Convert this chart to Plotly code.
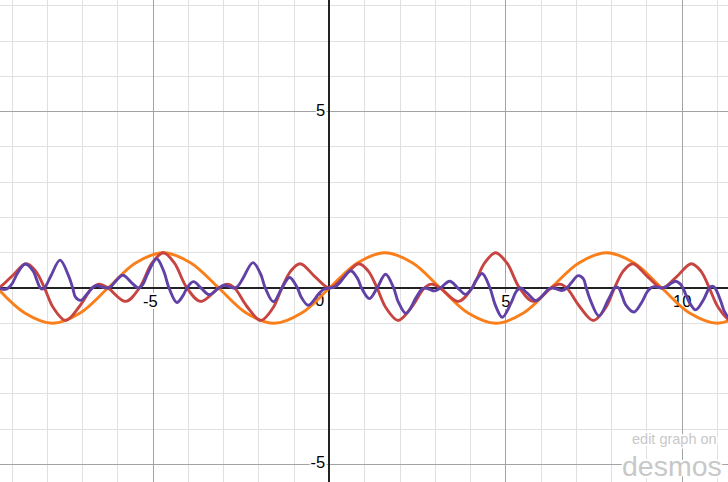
import plotly.graph_objects as go

# ---------------- data ----------------
orange_x = [-9.42, -8.64, -7.85, -7.07, -6.28, -5.50, -4.71, -3.93, -3.14, -2.36,
            -1.57, -0.79, 0.00, 0.79, 1.57, 2.36, 3.14, 3.93, 4.71, 5.50,
            6.28, 7.07, 7.85, 8.64, 9.42, 10.21, 11.00, 11.78]
orange_y = [0, -0.71, -1, -0.71, 0, 0.71, 1, 0.71, 0, -0.71,
            -1, -0.71, 0, 0.71, 1, 0.71, 0, -0.71, -1, -0.71,
            0, 0.71, 1, 0.71, 0, -0.71, -1, -0.71]

red_x = [-9.83, -9.43, -9.03, -8.60, -8.33, -8.08, -7.83, -7.48, -7.08, -6.73,
         -6.53, -6.28, -5.78, -5.39, -5.03, -4.71, -4.40, -4.04, -3.65, -3.14,
         -2.90, -2.69, -2.35, -1.95, -1.60, -1.35, -1.10, -0.83, -0.40, 0.00,
         0.40, 0.83, 1.10, 1.35, 1.60, 1.95, 2.35, 2.69, 2.90, 3.14,
         3.65, 4.04, 4.40, 4.71, 5.03, 5.39, 5.78, 6.28, 6.53, 6.73,
         7.08, 7.48, 7.83, 8.08, 8.33, 8.60, 9.03, 9.43, 9.83, 10.26,
         10.53, 10.77, 11.03, 11.38, 11.78]
red_y = [0.31, 0, 0.31, 0.69, 0.48, 0, -0.56, -0.92, -0.51, 0,
         0.11, 0, -0.38, 0, 0.71, 1.0, 0.71, 0, -0.38, 0,
         0.11, 0, -0.51, -0.92, -0.56, 0, 0.48, 0.69, 0.31, 0,
         0.31, 0.69, 0.48, 0, -0.56, -0.92, -0.51, 0, 0.11, 0,
         -0.38, 0, 0.71, 1.0, 0.71, 0, -0.38, 0, 0.11, 0,
         -0.51, -0.92, -0.56, 0, 0.48, 0.69, 0.31, 0, 0.31, 0.69,
         0.48, 0, -0.56, -0.92, -0.51]

purple_x = [-9.55, -9.42, -9.21, -9.11, -9.00, -8.85, -8.63, -8.40,
            -8.30, -8.20, -8.14, -8.08, -7.90, -7.64, -7.40, -7.28,
            -7.20, -7.05, -6.85, -6.73, -6.59, -6.45, -6.33, -6.20,
            -6.10, -5.86, -5.60, -5.42, -5.30, -5.15, -4.90, -4.70,
            -4.55, -4.33, -4.15, -4.04, -3.86, -3.64, -3.41, -3.14,
            -2.98, -2.82, -2.71, -2.60, -2.45, -2.17, -1.95, -1.82,
            -1.59, -1.35, -1.13, -0.91, -0.80, -0.60, -0.30, -0.15,
            0.00, 0.15, 0.30, 0.60, 0.80, 0.91, 1.13, 1.35,
            1.59, 1.82, 1.95, 2.17, 2.45, 2.60, 2.71, 2.82,
            2.98, 3.14, 3.41, 3.64, 3.86, 4.04, 4.15, 4.33,
            4.55, 4.70, 4.90, 5.15, 5.30, 5.42, 5.60, 5.86,
            6.10, 6.20, 6.33, 6.45, 6.59, 6.73, 6.85, 7.05,
            7.20, 7.28, 7.40, 7.64, 7.90, 8.08, 8.14, 8.20,
            8.30, 8.40, 8.63, 8.85, 9.00, 9.11, 9.21, 9.42,
            9.55, 9.65, 9.82, 9.95, 10.02, 10.10, 10.20, 10.38,
            10.60, 10.77, 10.85, 10.93, 11.10, 11.20, 11.40, 11.50]
purple_y = [-0.04, 0, -0.04, 0, 0.12, 0.41, 0.68, 0.48,
            0.23, 0, -0.03, 0, 0.34, 0.79, 0.35, 0,
            -0.26, -0.35, -0.14, 0, 0.07, 0.03, 0, 0.04,
            0.15, 0.36, 0.14, 0, 0.09, 0.42, 0.83, 0.48,
            0, -0.41, -0.21, 0, 0.18, 0, -0.19, 0,
            0.08, 0.03, 0, 0.05, 0.28, 0.72, 0.39, 0,
            -0.39, 0, 0.30, 0, -0.26, -0.49, -0.16, -0.03,
            0, 0.03, 0.16, 0.49, 0.26, 0, -0.30, 0,
            0.39, 0, -0.39, -0.72, -0.28, -0.05, 0, -0.03,
            -0.08, 0, 0.19, 0, -0.18, 0, 0.21, 0.41,
            0, -0.48, -0.83, -0.42, -0.09, 0, -0.14, -0.36,
            -0.15, -0.04, 0, -0.03, -0.07, 0, 0.14, 0.35,
            0.26, 0, -0.35, -0.79, -0.34, 0, 0.03, 0,
            -0.23, -0.48, -0.68, -0.41, -0.12, 0, 0.04, 0,
            0.04, 0.11, 0.19, 0.11, 0, -0.18, -0.40, -0.62,
            -0.34, 0, 0.05, 0, -0.39, -0.67, -0.91, -0.80]

x_tick_values = [-5, 5, 10]
x_tick_labels = ["-5", "5", "10"]
y_tick_values = [5, -5]
y_tick_labels = ["5", "-5"]
origin_label = "0"

X_RANGE = [-9.342, 11.299]
Y_RANGE = [-5.500, 8.166]

COL_ORANGE = "#fa7e19"
COL_RED = "#c74440"
COL_PURPLE = "#6042a6"

halo = ("2px 0 0 #fff, -2px 0 0 #fff, 0 2px 0 #fff, 0 -2px 0 #fff, "
        "1px 1px 0 #fff, -1px -1px 0 #fff, 1px -1px 0 #fff, -1px 1px 0 #fff")
label_font = dict(family="Liberation Sans, Arial, sans-serif", size=16.5,
                  color="#000000", shadow=halo)

fig = go.Figure()

# axis number labels (drawn beneath the curves, like Desmos)
fig.add_trace(go.Scatter(
    x=[v - 0.08 if v < 0 else v for v in x_tick_values],
    y=[-0.43] * len(x_tick_values),
    mode="text", text=x_tick_labels, textposition="middle center",
    textfont=label_font, marker=dict(size=0),
    hoverinfo="skip", showlegend=False))
fig.add_trace(go.Scatter(
    x=[-0.12] * len(y_tick_values) + [-0.15],
    y=list(y_tick_values) + [-0.40],
    mode="text", text=y_tick_labels + [origin_label], textposition="middle left",
    textfont=label_font, marker=dict(size=0),
    hoverinfo="skip", showlegend=False))

for xs, ys, col in [(orange_x, orange_y, COL_ORANGE),
                    (red_x, red_y, COL_RED),
                    (purple_x, purple_y, COL_PURPLE)]:
    fig.add_trace(go.Scatter(
        x=xs, y=ys, mode="lines",
        line=dict(color=col, width=2.9, shape="spline", smoothing=1.0),
        hoverinfo="skip", showlegend=False))

axis_common = dict(
    showgrid=True, gridcolor="#a3a3a3", gridwidth=1,
    tick0=0, dtick=5,
    minor=dict(tick0=0, dtick=1, showgrid=True, gridcolor="#e0e0e0", gridwidth=1),
    zeroline=True, zerolinecolor="#222222", zerolinewidth=2,
    showticklabels=False, ticks="", showline=False, fixedrange=True,
)

fig.update_layout(
    width=728, height=482,
    margin=dict(l=0, r=0, t=0, b=0),
    paper_bgcolor="#ffffff", plot_bgcolor="#ffffff",
    xaxis=dict(range=X_RANGE, **axis_common),
    yaxis=dict(range=Y_RANGE, **axis_common),
    showlegend=False,
    annotations=[
        dict(text="edit graph on", xref="paper", yref="paper",
             x=0.988, y=0.068, xanchor="right", yanchor="bottom", showarrow=False,
             font=dict(family="Liberation Sans, Arial, sans-serif", size=14.5,
                       color="#c8c8c8", shadow=halo)),
        dict(text="desmos", xref="paper", yref="paper",
             x=0.994, y=-0.004, xanchor="right", yanchor="bottom", showarrow=False,
             font=dict(family="Liberation Sans, Arial, sans-serif", size=28.5,
                       color="#c8c8c8", shadow=halo)),
    ],
)

fig.write_html(
    "out.html",
    config={"displayModeBar": False},
    post_script=("document.body.style.margin='0';"
                 "document.body.style.overflow='hidden';"
                 "document.documentElement.style.overflow='hidden';"),
)
